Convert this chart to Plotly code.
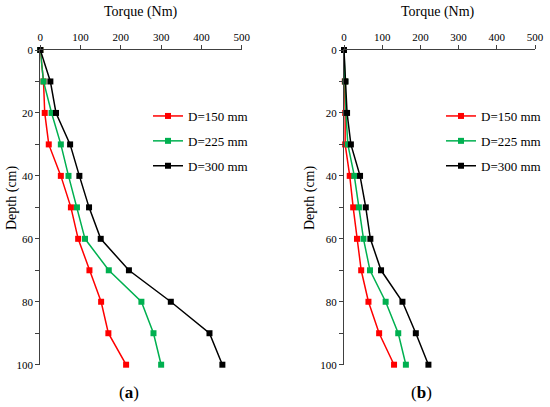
import plotly.graph_objects as go

W, H = 550, 407

depth = [0, 10, 20, 30, 40, 50, 60, 70, 80, 90, 100]

# Panel (a)
a_150 = [0, 8, 11, 21, 51, 76, 94, 122, 151, 169, 213]
a_225 = [0, 8, 28, 51, 70, 91, 111, 170, 251, 281, 300]
a_300 = [0, 25, 39, 74, 97, 121, 150, 220, 324, 420, 452]

# Panel (b)
b_150 = [0, 2, 3, 3, 15, 24, 34, 45, 64, 92, 131]
b_225 = [0, 3, 5, 10, 27, 39, 51, 68, 109, 142, 162]
b_300 = [0, 4, 8, 18, 42, 57, 69, 97, 153, 188, 221]

series_names = ["D=150 mm", "D=225 mm", "D=300 mm"]
colors = ["#FF0000", "#00B050", "#000000"]

x_ticks = [0, 100, 200, 300, 400, 500]
y_ticks = [0, 10, 20, 30, 40, 50, 60, 70, 80, 90, 100]
y_ticktext = ["0", "", "20", "", "40", "", "60", "", "80", "", "100"]

FONT = "Liberation Serif"

fig = go.Figure()

for i, (vals, name, col) in enumerate(zip([a_150, a_225, a_300], series_names, colors)):
    fig.add_trace(go.Scatter(
        x=vals, y=depth, name=name, mode="lines+markers",
        line=dict(color=col, width=1.5),
        marker=dict(symbol="square", size=6, color=col),
        cliponaxis=False,
        xaxis="x", yaxis="y", legend="legend", legendgroup="a%d" % i))

for i, (vals, name, col) in enumerate(zip([b_150, b_225, b_300], series_names, colors)):
    fig.add_trace(go.Scatter(
        x=vals, y=depth, name=name, mode="lines+markers",
        line=dict(color=col, width=1.5),
        marker=dict(symbol="square", size=6, color=col),
        cliponaxis=False,
        xaxis="x2", yaxis="y2", legend="legend2", legendgroup="b%d" % i))

def px(x):
    return x / W

def py(y):
    return 1 - y / H

ydom = [py(364.7), py(50)]

def axis_common():
    return dict(
        showgrid=False, zeroline=False, showline=True, linecolor="#404040",
        linewidth=1, ticks="outside", tickcolor="#404040", ticklen=4,
        automargin=False,
        tickfont=dict(family=FONT, size=11, color="#000000"),
    )

def legend_common():
    return dict(
        xanchor="left", yanchor="top",
        font=dict(family=FONT, size=13, color="#000000"),
        bgcolor="rgba(0,0,0,0)", tracegroupgap=5, itemwidth=30,
    )

fig.update_layout(
    width=W, height=H,
    margin=dict(l=0, r=0, t=0, b=0, autoexpand=False),
    paper_bgcolor="white", plot_bgcolor="white",
    font=dict(family=FONT, color="#000000"),
    xaxis=dict(domain=[px(40.3), px(241.7)], range=[0, 500], side="top",
               tickvals=x_ticks, anchor="y", **axis_common()),
    yaxis=dict(domain=ydom, range=[100, 0], tickvals=y_ticks,
               ticktext=y_ticktext, anchor="x", **axis_common()),
    xaxis2=dict(domain=[px(344), px(535)], range=[0, 500], side="top",
                tickvals=x_ticks, anchor="y2", **axis_common()),
    yaxis2=dict(domain=ydom, range=[100, 0], tickvals=y_ticks,
                ticktext=y_ticktext, anchor="x2", **axis_common()),
    legend=dict(x=px(148), y=py(101), **legend_common()),
    legend2=dict(x=px(441), y=py(101), **legend_common()),
    showlegend=True,
)

annos = [
    dict(text="Torque (Nm)", x=px(141), y=py(12)),
    dict(text="Torque (Nm)", x=px(438), y=py(12)),
    dict(text="Depth (cm)", x=px(12), y=py(198), textangle=-90),
    dict(text="Depth (cm)", x=px(310), y=py(198), textangle=-90),
    dict(text="(<b>a</b>)", x=px(129), y=py(392), size=17),
    dict(text="(<b>b</b>)", x=px(421), y=py(392), size=17),
]
for a in annos:
    size = a.pop("size", 14)
    fig.add_annotation(xref="paper", yref="paper", showarrow=False,
                       xanchor="center", yanchor="middle",
                       font=dict(family=FONT, size=size, color="#000000"), **a)

fig.write_html(
    "out.html",
    config={"displayModeBar": False},
    post_script="document.body.style.margin='0';document.body.style.padding='0';",
)
